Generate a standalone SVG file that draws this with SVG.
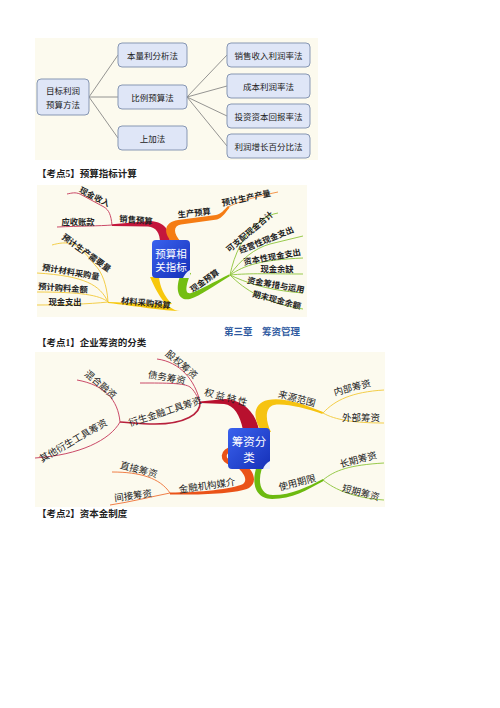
<svg xmlns="http://www.w3.org/2000/svg" width="500" height="708" viewBox="0 0 500 708">
<style>
.bg{fill:#fcfaee}
.box{fill:#dfe6f7;stroke:#8797b3;stroke-width:1}
.bt{font-family:'Noto Sans CJK SC','Noto Sans',sans-serif;font-size:8.5px;fill:#222;text-anchor:middle;dominant-baseline:central}
.lbl{font-family:'Noto Sans CJK SC','Noto Sans',sans-serif;font-size:8.3px;fill:#222;text-anchor:middle;dominant-baseline:central;font-weight:bold}
.lb2{font-family:'Noto Sans CJK SC','Noto Sans',sans-serif;font-size:9.5px;fill:#222;text-anchor:middle;dominant-baseline:central}
.ttl{font-family:'Liberation Serif','Noto Sans CJK SC',serif;font-size:9.5px;font-weight:bold;fill:#222}
.cn{font-family:'Liberation Serif','Noto Sans CJK SC',serif;font-size:10.5px;fill:#fff;text-anchor:middle;dominant-baseline:central}
.cn2{font-family:'Noto Sans CJK SC','Noto Sans',sans-serif;font-size:11.5px;fill:#fff;text-anchor:middle;dominant-baseline:central}
.ln{fill:none;stroke:#7a7a7a;stroke-width:0.8}
.tr{fill:none;stroke:#c43658;stroke-width:0.9}
.to{fill:none;stroke:#f28a3a;stroke-width:0.9}
.tg{fill:none;stroke:#8cc43a;stroke-width:0.9}
.ty{fill:none;stroke:#f2c838;stroke-width:0.9}
.tor{fill:none;stroke:#ee7034;stroke-width:0.9}
</style>
<defs>
<linearGradient id="blue" x1="0" y1="0" x2="1" y2="1">
<stop offset="0" stop-color="#3a62ee"/>
<stop offset="1" stop-color="#1530b8"/>
</linearGradient>
</defs>
<rect width="500" height="708" fill="#ffffff"/>

<!-- ===== Top diagram ===== -->
<rect class="bg" x="35" y="38" width="283" height="122"/>
<g id="top-connectors">
<path class="ln" d="M89,97 L118,55 M89,97 L118,97 M89,97 L118,138"/>
<path class="ln" d="M187,97 L227,55 M187,97 L227,86 M187,97 L227,116 M187,97 L227,146"/>
</g>
<g id="t-root"><rect class="box" x="37" y="79" width="52" height="36" rx="4"/><text class="bt" x="63" y="90">目标利润</text><text class="bt" x="63" y="104">预算方法</text></g>
<g id="t-blfx"><rect class="box" x="118" y="43" width="69" height="24" rx="4"/><text class="bt" x="152.5" y="55">本量利分析法</text></g>
<g id="t-blys"><rect class="box" x="118" y="85" width="69" height="24" rx="4"/><text class="bt" x="152.5" y="97">比例预算法</text></g>
<g id="t-sjf"><rect class="box" x="118" y="126" width="69" height="24" rx="4"/><text class="bt" x="152.5" y="138">上加法</text></g>
<g id="t-xssr"><rect class="box" x="227" y="43" width="83" height="24" rx="4"/><text class="bt" x="268.5" y="55">销售收入利润率法</text></g>
<g id="t-cb"><rect class="box" x="227" y="74" width="83" height="24" rx="4"/><text class="bt" x="268.5" y="86">成本利润率法</text></g>
<g id="t-tz"><rect class="box" x="227" y="104" width="83" height="24" rx="4"/><text class="bt" x="268.5" y="116">投资资本回报率法</text></g>
<g id="t-zz"><rect class="box" x="227" y="134" width="83" height="24" rx="4"/><text class="bt" x="268.5" y="146">利润增长百分比法</text></g>

<text class="ttl" x="37" y="177">【考点5】预算指标计算</text>

<!-- ===== Middle mind map ===== -->
<rect class="bg" x="37" y="185" width="270" height="132"/>
<g id="mid-connectors">
<path fill="#c4163c" d="M170,243 C170,230 165,222 150,221 L112,224.3 L112,226 L148,226.5 C156,227 160,233 160,243 Z"/>
<path fill="#f57c14" d="M172,242 C163,233 164,222 178,220 L216,215 C221,214 224,210 228,206 L229.5,207.5 C226,212 222,218 217,219.5 L181,224.5 C173,226 173,233 181,242 Z"/>
<path fill="#74be12" d="M182,272 C175,285 176,302 190,299 C200,296 215,285 230,276 L229,274.5 C214,282 200,290 191,293 C184,295 186,284 191,273 Z"/>
<path fill="#f7c80c" d="M150,277 C157,293 166,310 180,311 C165,311 135,306 108,303 L108,302 C135,303 160,305 172,304 C164,296 160,287 159,277 Z"/>
<path class="tr" d="M112,225 C100,226 80,226 57,227"/>
<path class="tr" d="M112,225 C111,215 109,210 104,207 L80,194 C75,192 72,193 67,194"/>
<path class="to" d="M228,207 C238,202 250,198 278,192"/>
<path class="tg" d="M230,275 C234,255 244,232 262,220 C268,216 272,214 278,213"/>
<path class="tg" d="M230,275 C240,260 255,248 270,244 L303,236"/>
<path class="tg" d="M230,275 C245,265 260,260 303,258"/>
<path class="tg" d="M230,275 C250,273 270,274 303,274"/>
<path class="tg" d="M230,275 C245,282 265,290 303,293"/>
<path class="tg" d="M230,275 C245,290 265,303 303,309"/>
<path class="ty" d="M108,302 C90,304 60,305 37,305"/>
<path class="ty" d="M108,302 C100,295 80,292 37,292"/>
<path class="ty" d="M108,302 C100,285 85,276 37,273"/>
<path class="ty" d="M108,302 C107,285 102,272 95,265 C88,256 80,247 73,244 C66,242 59,243 52,245"/>
</g>
<g id="m-center">
<rect x="152" y="240" width="38" height="38" rx="4" fill="url(#blue)"/>
<path d="M190,270 C186,272 184,276 183,278 L190,278 Z" fill="#e8eefc"/>
<text class="cn" x="171" y="254">预算相</text>
<text class="cn" x="171" y="267">关指标</text>
</g>
<g id="m-xsys"><text class="lbl" transform="translate(136,219) rotate(5)">销售预算</text></g>
<g id="m-xjsr"><text class="lbl" transform="translate(95,196) rotate(27)">现金收入</text></g>
<g id="m-yszk"><text class="lbl" x="78" y="221">应收账款</text></g>
<g id="m-scys"><text class="lbl" transform="translate(194,212) rotate(-6)">生产预算</text></g>
<g id="m-yjscl"><text class="lbl" transform="translate(246,197) rotate(-12)">预计生产产量</text></g>
<g id="m-xjys"><text class="lbl" transform="translate(204,280) rotate(-35)">现金预算</text></g>
<g id="m-kzp"><text class="lbl" transform="translate(249,231) rotate(-40)">可支配现金合计</text></g>
<g id="m-jyx"><text class="lbl" transform="translate(266,239) rotate(-22)">经营性现金支出</text></g>
<g id="m-zbx"><text class="lbl" transform="translate(272,256) rotate(-10)">资本性现金支出</text></g>
<g id="m-xjyq"><text class="lbl" x="277" y="268">现金余缺</text></g>
<g id="m-zjcc"><text class="lbl" transform="translate(276,284) rotate(10)">资金筹措与运用</text></g>
<g id="m-qmxj"><text class="lbl" transform="translate(277,299) rotate(15)">期末现金余额</text></g>
<g id="m-clcg"><text class="lbl" transform="translate(146,302) rotate(6)">材料采购预算</text></g>
<g id="m-xjzc"><text class="lbl" x="65" y="300.5">现金支出</text></g>
<g id="m-yjgl"><text class="lbl" transform="translate(63,287) rotate(4)">预计购料金额</text></g>
<g id="m-yjcl"><text class="lbl" transform="translate(71,271) rotate(10)">预计材料采购量</text></g>
<g id="m-yjsc"><text class="lbl" transform="translate(87,252) rotate(36)">预计生产需要量</text></g>

<text x="224" y="335" font-family="'Liberation Serif','Noto Sans CJK SC',serif" font-size="9.5" font-weight="bold" fill="#2f5aa0">第三章　筹资管理</text>

<text class="ttl" x="37" y="346">【考点1】企业筹资的分类</text>

<!-- ===== Bottom mind map ===== -->
<rect class="bg" x="35" y="352" width="350" height="155"/>
<g id="bot-connectors">
<path fill="#b8102e" d="M259,430 C255,410 241,400 225,399 L200,401.5 L200,403 L224,404 C234,405 240,415 243,430 Z"/>
<path fill="#f6c310" d="M262,432 C252,418 253,403 268,400 C285,397 305,405 323,412 L322.5,414 C305,408 285,403 274,405 C265,407 265,420 271,432 Z"/>
<path fill="#6dba10" d="M266,460 C257,474 257,495 273,495 C292,495 307,487 323,479 L323.5,481 C307,490 292,499 272,499 C251,499 251,474 260,460 Z"/>
<path fill="#ea5318" d="M244,463 C254,471 258,482 249,488 C236,494 200,495 170,494.5 L170,492.5 C200,492.5 232,489 243,484 C248,480 244,473 237,467 Z"/>
<path d="M233,449 C222,450 221,461 232,463" fill="none" stroke="#ea5318" stroke-width="5"/>
<path fill="none" stroke="#b8203c" stroke-width="1.6" d="M200,402 C201,414 185,424 155,424 C138,424 127,422 120,422"/>
<path class="tr" d="M200,402 C195,380 180,362 157,359"/>
<path class="tr" d="M200,402 C197,396 194,390 190,387 C184,383 168,383 140,383"/>
<path class="tr" d="M120,422 C118,400 105,385 77,380"/>
<path class="tr" d="M120,422 C110,440 80,455 35,458"/>
<path class="ty" d="M323,413 C335,400 352,392 384,390"/>
<path class="ty" d="M323,413 C335,420 355,423 384,423"/>
<path class="tg" d="M323,480 C335,470 350,465 384,463"/>
<path class="tg" d="M323,480 C335,490 355,498 384,500"/>
<path class="tor" d="M170,493 C160,478 140,472 112,472"/>
<path class="tor" d="M170,493 C150,497 130,502 110,505"/>
</g>
<g id="b-center">
<rect x="228" y="428" width="42" height="41" rx="4" fill="url(#blue)"/>
<path d="M270,461 C266,463 264,466 263,469 L270,469 Z" fill="#e8eefc"/>
<text class="cn2" x="249" y="441">筹资分</text>
<text class="cn2" x="249" y="457">类</text>
</g>
<g id="b-qytx"><text class="lb2" letter-spacing="2" transform="translate(227,397) rotate(15)">权益特性</text></g>
<g id="b-gq"><text class="lb2" transform="translate(182,364) rotate(40)">股权筹资</text></g>
<g id="b-zw"><text class="lb2" transform="translate(167,377) rotate(10)">债务筹资</text></g>
<g id="b-ys"><text class="lb2" transform="translate(165,411) rotate(-18)">衍生金融工具筹资</text></g>
<g id="b-hh"><text class="lb2" transform="translate(101,384) rotate(40)">混合融资</text></g>
<g id="b-qt"><text class="lb2" transform="translate(73,440) rotate(-30)">其他衍生工具筹资</text></g>
<g id="b-lyfw"><text class="lb2" transform="translate(297,398) rotate(15)">来源范围</text></g>
<g id="b-nb"><text class="lb2" transform="translate(352,387) rotate(-15)">内部筹资</text></g>
<g id="b-wb"><text class="lb2" x="361" y="417">外部筹资</text></g>
<g id="b-syqx"><text class="lb2" transform="translate(297,482) rotate(-15)">使用期限</text></g>
<g id="b-cq"><text class="lb2" transform="translate(358,459) rotate(-15)">长期筹资</text></g>
<g id="b-dq"><text class="lb2" transform="translate(361,492) rotate(15)">短期筹资</text></g>
<g id="b-jrjg"><text class="lb2" transform="translate(207,485) rotate(-8)">金融机构媒介</text></g>
<g id="b-zj"><text class="lb2" transform="translate(139,469) rotate(15)">直接筹资</text></g>
<g id="b-jj"><text class="lb2" transform="translate(133,495) rotate(-8)">间接筹资</text></g>

<text class="ttl" x="37" y="517">【考点2】资本金制度</text>
</svg>
